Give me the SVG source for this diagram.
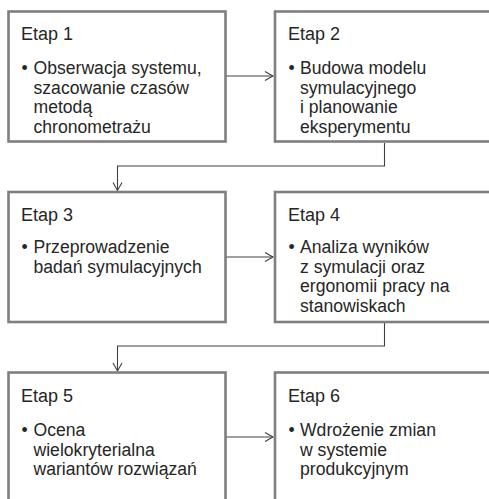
<svg xmlns="http://www.w3.org/2000/svg" width="489" height="499" viewBox="0 0 489 499">
  <style>
    .box { fill: #ffffff; stroke: #7f7f7f; stroke-width: 2.6; }
    .title { font-family: "Liberation Sans", Arial, sans-serif; font-size: 18px; fill: #262626; }
    .body { font-family: "Liberation Sans", Arial, sans-serif; font-size: 17.6px; fill: #262626; }
    .link { fill: none; stroke: #404040; stroke-width: 1.1; }
  </style>
  <defs>
    <marker id="arrow" markerUnits="userSpaceOnUse" markerWidth="12" markerHeight="12" viewBox="0 0 12 12" refX="10" refY="6" orient="auto">
      <path d="M2,1.5 L10,6 L2,10.5" fill="none" stroke="#404040" stroke-width="1.1"/>
    </marker>
  </defs>

  <rect width="489" height="499" fill="#ffffff"/>

  <!-- connectors between stages -->
  <g id="connectors">
    <path class="link" d="M226,76 H273" marker-end="url(#arrow)"/>
    <path class="link" d="M384.5,143 V166 H117.5 V190.5" marker-end="url(#arrow)"/>
    <path class="link" d="M226,257 H273" marker-end="url(#arrow)"/>
    <path class="link" d="M384.5,323 V346 H117.5 V371" marker-end="url(#arrow)"/>
    <path class="link" d="M226,437 H273" marker-end="url(#arrow)"/>
  </g>

  <!-- stage 1 -->
  <g id="etap1">
    <rect class="box" x="8.5" y="11.5" width="217" height="130"/>
    <text class="title" x="21" y="40">Etap 1</text>
    <text class="body" x="21.5" y="74">•</text>
    <text class="body" x="33.5" y="74">Obserwacja systemu,</text>
    <text class="body" x="33.5" y="93.5">szacowanie czasów</text>
    <text class="body" x="33.5" y="113">metodą</text>
    <text class="body" x="33.5" y="132.5">chronometrażu</text>
  </g>

  <!-- stage 2 -->
  <g id="etap2">
    <rect class="box" x="275" y="11.5" width="225" height="130"/>
    <text class="title" x="288" y="40">Etap 2</text>
    <text class="body" x="288.5" y="74">•</text>
    <text class="body" x="300" y="74">Budowa modelu</text>
    <text class="body" x="300" y="93.5">symulacyjnego</text>
    <text class="body" x="300" y="113">i planowanie</text>
    <text class="body" x="300" y="132.5">eksperymentu</text>
  </g>

  <!-- stage 3 -->
  <g id="etap3">
    <rect class="box" x="8.5" y="192" width="217" height="130"/>
    <text class="title" x="21" y="220.5">Etap 3</text>
    <text class="body" x="21.5" y="253">•</text>
    <text class="body" x="33.5" y="253">Przeprowadzenie</text>
    <text class="body" x="33.5" y="272.5">badań symulacyjnych</text>
  </g>

  <!-- stage 4 -->
  <g id="etap4">
    <rect class="box" x="275" y="192" width="225" height="130"/>
    <text class="title" x="288" y="220.5">Etap 4</text>
    <text class="body" x="288.5" y="253">•</text>
    <text class="body" x="300" y="253">Analiza wyników</text>
    <text class="body" x="300" y="272.5">z symulacji oraz</text>
    <text class="body" x="300" y="292">ergonomii pracy na</text>
    <text class="body" x="300" y="311.5">stanowiskach</text>
  </g>

  <!-- stage 5 -->
  <g id="etap5">
    <rect class="box" x="8.5" y="372.5" width="217" height="140"/>
    <text class="title" x="21" y="401.5">Etap 5</text>
    <text class="body" x="21.5" y="436">•</text>
    <text class="body" x="33.5" y="436">Ocena</text>
    <text class="body" x="33.5" y="455.5">wielokryterialna</text>
    <text class="body" x="33.5" y="475">wariantów rozwiązań</text>
  </g>

  <!-- stage 6 -->
  <g id="etap6">
    <rect class="box" x="275" y="372.5" width="225" height="140"/>
    <text class="title" x="288" y="401.5">Etap 6</text>
    <text class="body" x="288.5" y="436">•</text>
    <text class="body" x="300" y="436">Wdrożenie zmian</text>
    <text class="body" x="300" y="455.5">w systemie</text>
    <text class="body" x="300" y="475">produkcyjnym</text>
  </g>
</svg>
